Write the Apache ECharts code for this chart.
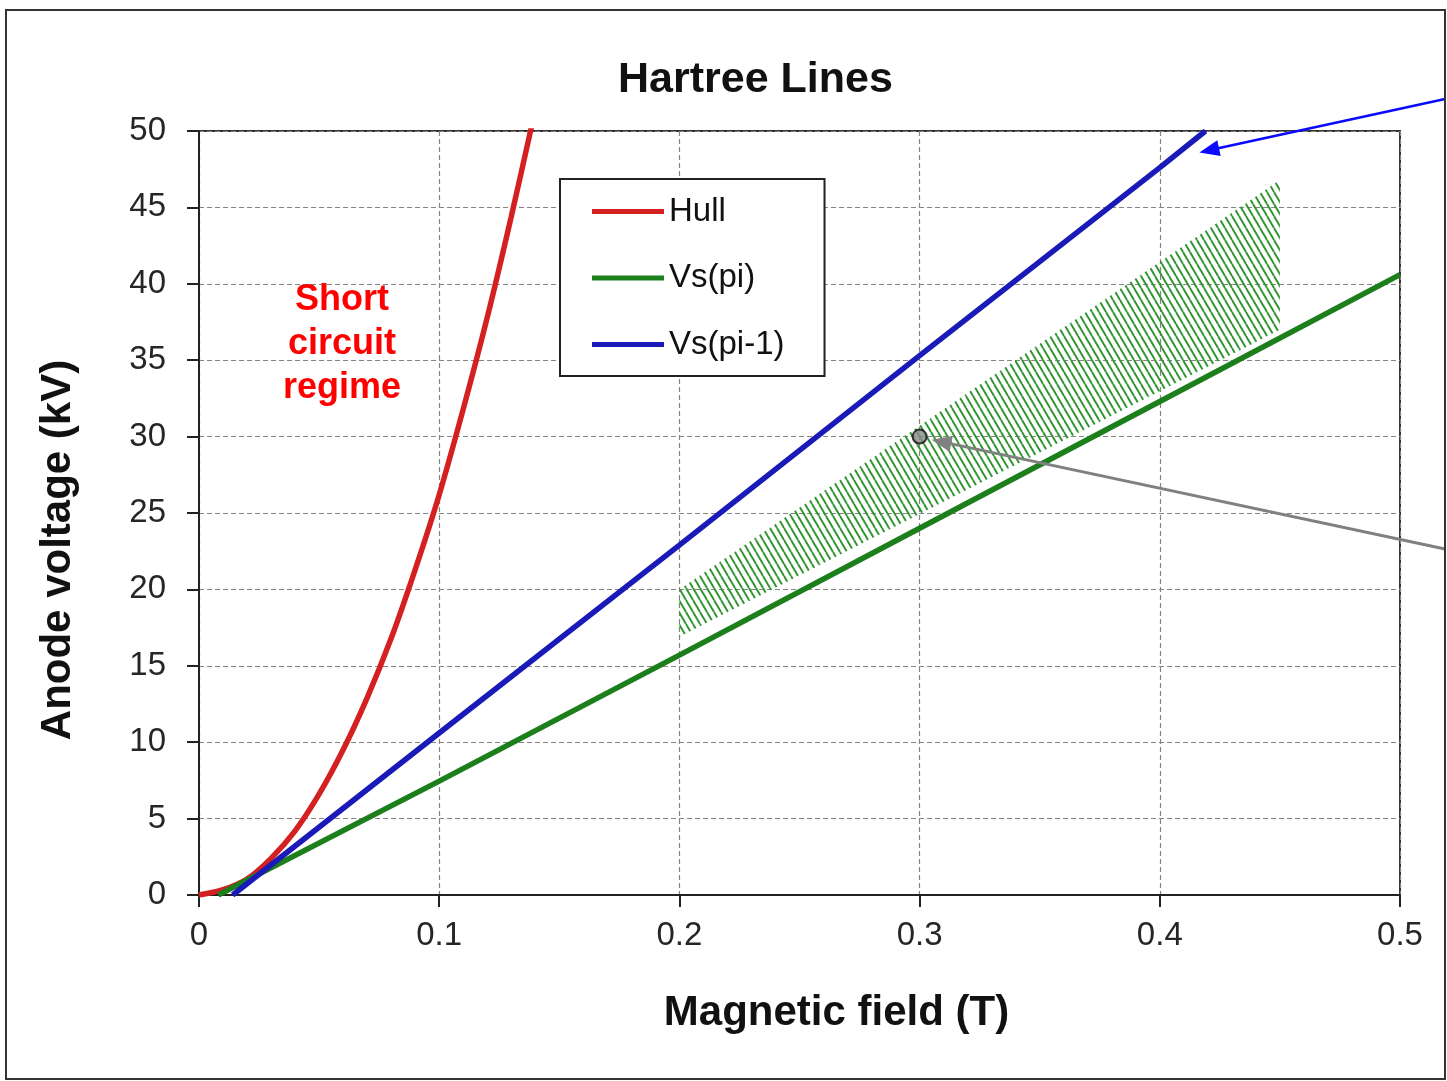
<!DOCTYPE html>
<html>
<head>
<meta charset="utf-8">
<title>Hartree Lines</title>
<script src="https://cdn.jsdelivr.net/npm/echarts@6/dist/echarts.min.js"></script>
<style>
  html, body { margin: 0; padding: 0; background: #ffffff; }
  #chart { width: 1447px; height: 1081px; }
</style>
</head>
<body>
<div id="chart"></div>
<script>
// Hull cut-off curve: magnetic field (T) vs anode voltage (kV)
const hullB = [0, 0.01, 0.02, 0.03, 0.04, 0.05, 0.06, 0.07, 0.08, 0.09, 0.10, 0.11, 0.12, 0.13, 0.14];
const hullV = [0, 0.35, 1.05, 2.4, 4.2, 6.6, 9.5, 12.9, 16.8, 21.3, 26.2, 31.8, 37.8, 44.4, 51.4];

// Hartree threshold, pi mode
const piB = [0.008, 0.1, 0.2, 0.3, 0.4, 0.5];
const piV = [0, 7.45, 15.7, 24.0, 32.3, 40.6];

// Hartree threshold, pi-1 mode
const pi1B = [0.014, 0.1, 0.2, 0.3, 0.4, 0.419];
const pi1V = [0, 10.6, 22.9, 35.3, 47.6, 50.0];

// Hatched operating band (polygon corners)
const bandB = [0.2, 0.45, 0.45, 0.2];
const bandV = [16.9, 37.0, 46.8, 20.0];

// Operating point
const pointB = [0.3];
const pointV = [30];

// Arrow tips (data coords); the tails run off the right edge
const arrowTipB = [0.305, 0.4165];
const arrowTipV = [29.8, 48.6];

const xTickLabels = ['0', '0.1', '0.2', '0.3', '0.4', '0.5'];
const yTickLabels = ['0', '5', '10', '15', '20', '25', '30', '35', '40', '45', '50'];
const seriesNames = ['Hull', 'Vs(pi)', 'Vs(pi-1)'];

const FONT = "'Liberation Sans', Arial, Helvetica, sans-serif";
const RED = '#d42020', GREEN = '#1c7f1c', BLUE = '#1a1ab8';

const zip = (a, b) => a.map((v, i) => [v, b[i]]);

// Diagonal hatch tile for the band
function makeHatch() {
  const c = document.createElement('canvas');
  c.width = 7; c.height = 12;
  const g = c.getContext('2d');
  g.strokeStyle = '#2f952f';
  g.lineWidth = 1.9;
  for (const x0 of [-7, 0, 7]) {
    g.beginPath();
    g.moveTo(x0, 0);
    g.lineTo(x0 + 7, 12);
    g.stroke();
  }
  return c;
}
const hatch = makeHatch();

const chart = echarts.init(document.getElementById('chart'), null, { renderer: 'canvas' });

const axisLabelStyle = { fontFamily: FONT, fontSize: 33, color: '#262626' };
const gridLine = { show: true, lineStyle: { color: '#858585', type: [5, 3], width: 1.2 } };

const option = {
  backgroundColor: '#ffffff',
  animation: false,
  title: {
    text: 'Hartree Lines',
    left: 618, top: 59, padding: 0,
    textStyle: { fontFamily: FONT, fontSize: 43, fontWeight: 'bold', color: '#111' }
  },
  legend: {
    data: seriesNames,
    orient: 'vertical',
    left: 560, top: 179,
    padding: [16, 40, 15, 32],
    icon: 'rect',
    itemWidth: 72, itemHeight: 5, itemGap: 33.5,
    backgroundColor: '#ffffff',
    borderColor: '#222', borderWidth: 2,
    textStyle: { fontFamily: FONT, fontSize: 33, color: '#111', lineHeight: 33 },
    selectedMode: false
  },
  grid: {
    left: 199, right: 47, top: 131, bottom: 186,
    show: true, borderColor: '#333', borderWidth: 2, backgroundColor: 'transparent'
  },
  xAxis: {
    type: 'value', min: 0, max: 0.5, interval: 0.1,
    name: 'Magnetic field (T)', nameLocation: 'middle', nameGap: 97,
    nameTextStyle: { fontFamily: FONT, fontSize: 42, fontWeight: 'bold', color: '#111', padding: [0, 0, 0, 74] },
    axisLine: { show: true, onZero: false, lineStyle: { color: '#222', width: 2 } },
    axisTick: { show: true, inside: false, length: 12, lineStyle: { color: '#222', width: 2 } },
    axisLabel: Object.assign({ margin: 24, formatter: v => xTickLabels[Math.round(v / 0.1)] }, axisLabelStyle),
    splitLine: gridLine
  },
  yAxis: {
    type: 'value', min: 0, max: 50, interval: 5,
    name: 'Anode voltage (kV)', nameLocation: 'middle', nameGap: 120,
    nameTextStyle: { fontFamily: FONT, fontSize: 42, fontWeight: 'bold', color: '#111', padding: [0, 74, 0, 0] },
    axisLine: { show: true, onZero: false, lineStyle: { color: '#222', width: 2 } },
    axisTick: { show: true, inside: false, length: 12, lineStyle: { color: '#222', width: 2 } },
    axisLabel: Object.assign({ margin: 33, formatter: v => yTickLabels[Math.round(v / 5)] }, axisLabelStyle),
    splitLine: gridLine
  },
  series: [
    {
      type: 'custom',
      name: 'band',
      silent: true,
      z: 1,
      data: zip(bandB, bandV),
      renderItem: function (params, api) {
        if (params.dataIndex !== 0) return null;
        const pts = bandB.map((b, i) => api.coord([b, bandV[i]]));
        return {
          type: 'polygon',
          shape: { points: pts },
          style: { fill: { image: hatch, repeat: 'repeat' }, stroke: null }
        };
      }
    },
    {
      type: 'line', name: 'Hull', data: zip(hullB, hullV),
      smooth: 0.3, symbol: 'none', z: 3,
      lineStyle: { color: RED, width: 5.5 }, itemStyle: { color: RED }
    },
    {
      type: 'line', name: 'Vs(pi)', data: zip(piB, piV),
      symbol: 'none', z: 3,
      lineStyle: { color: GREEN, width: 5.5 }, itemStyle: { color: GREEN }
    },
    {
      type: 'line', name: 'Vs(pi-1)', data: zip(pi1B, pi1V),
      symbol: 'none', z: 4,
      lineStyle: { color: BLUE, width: 5.5 }, itemStyle: { color: BLUE }
    },
    {
      type: 'scatter', name: 'point', data: zip(pointB, pointV),
      symbol: 'circle', symbolSize: 14, z: 6, silent: true,
      itemStyle: { color: '#8a8a8a', borderColor: '#111', borderWidth: 2 }
    }
  ]
};

chart.setOption(option);

// Arrow made of a shaft and a filled triangular head
function arrow(tail, tip, color, width) {
  const dx = tip[0] - tail[0], dy = tip[1] - tail[1];
  const len = Math.sqrt(dx * dx + dy * dy);
  const ux = dx / len, uy = dy / len;
  const headLen = 20, headW = 8;
  const bx = tip[0] - ux * headLen, by = tip[1] - uy * headLen;
  return [
    { type: 'line', z: 50, silent: true, shape: { x1: tail[0], y1: tail[1], x2: bx + ux * 2, y2: by + uy * 2 },
      style: { stroke: color, lineWidth: width } },
    { type: 'polygon', z: 50, silent: true,
      shape: { points: [tip, [bx - uy * headW, by + ux * headW], [bx + uy * headW, by - ux * headW]] },
      style: { fill: color } }
  ];
}

const textPos = chart.convertToPixel({ gridIndex: 0 }, [0.0595, 36.05]);
const greyTip = chart.convertToPixel({ gridIndex: 0 }, [arrowTipB[0], arrowTipV[0]]);
const blueTip = chart.convertToPixel({ gridIndex: 0 }, [arrowTipB[1], arrowTipV[1]]);

chart.setOption({
  graphic: [
    { type: 'rect', z: 100, silent: true,
      shape: { x: 6, y: 10, width: 1439, height: 1069 },
      style: { fill: null, stroke: '#333', lineWidth: 2 } },
    { type: 'text', z: 60, silent: true, x: textPos[0], y: textPos[1],
      style: { text: 'Short\ncircuit\nregime', fill: '#ff0000', font: 'bold 36px ' + FONT,
               align: 'center', verticalAlign: 'middle', lineHeight: 44 } }
  ].concat(arrow([1445, 549], greyTip, '#808080', 3), arrow([1445, 99], blueTip, '#0a0aff', 2.5))
});
</script>
</body>
</html>
